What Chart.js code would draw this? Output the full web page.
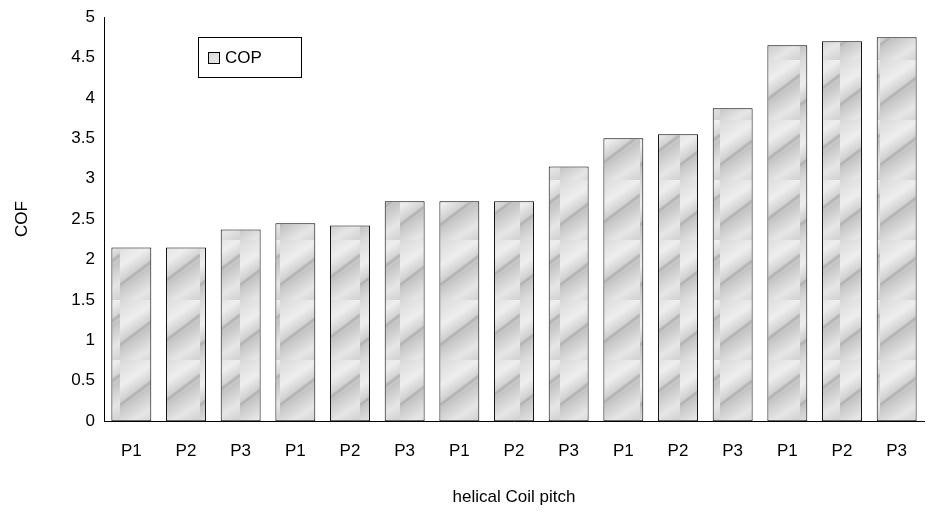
<!DOCTYPE html>
<html>
<head>
<meta charset="utf-8">
<script src="https://cdn.jsdelivr.net/npm/chart.js@4"></script>
<style>
  html, body { margin: 0; padding: 0; background: #fff; }
  #wrap { width: 928px; height: 512px; }
</style>
</head>
<body>
<div id="wrap"><canvas id="cop" width="928" height="512"></canvas></div>
<script>
const categories = ['P1', 'P2', 'P3', 'P1', 'P2', 'P3', 'P1', 'P2', 'P3', 'P1', 'P2', 'P3', 'P1', 'P2', 'P3']
const copValues = [2.15, 2.15, 2.37, 2.45, 2.42, 2.72, 2.72, 2.72, 3.15, 3.5, 3.55, 3.87, 4.65, 4.7, 4.75]
const seriesName = 'COP'

// grey marble-ish texture for bars
function makePattern() {
  const c = document.createElement('canvas')
  c.width = 40
  c.height = 60
  const g = c.getContext('2d')
  const grad = g.createLinearGradient(0, 0, 40, 60)
  grad.addColorStop(0, '#d8d8d8')
  grad.addColorStop(0.3, '#eeeeee')
  grad.addColorStop(0.55, '#c4c4c4')
  grad.addColorStop(0.8, '#e6e6e6')
  grad.addColorStop(1, '#d0d0d0')
  g.fillStyle = grad
  g.fillRect(0, 0, 40, 60)
  g.strokeStyle = 'rgba(160,160,160,0.5)'
  g.lineWidth = 3
  g.beginPath()
  g.moveTo(0, 45); g.lineTo(40, 15)
  g.stroke()
  return g.createPattern(c, 'repeat')
}

const fill = makePattern()
const ctx = document.getElementById('cop').getContext('2d')
new Chart(ctx, {
  type: 'bar',
  data: {
    labels: categories,
    datasets: [{
      label: seriesName,
      data: copValues,
      backgroundColor: fill,
      borderColor: '#000',
      borderWidth: 1,
      borderSkipped: false,
      categoryPercentage: 1,
      barPercentage: 0.73,
    }],
  },
  options: {
    responsive: false,
    animation: false,
    layout: { padding: { top: 17, right: 4, left: 8, bottom: 0 } },
    scales: {
      x: {
        grid: { display: false, drawTicks: false },
        border: { color: '#000' },
        ticks: { color: '#000', font: { family: 'Liberation Sans', size: 17 }, padding: 20 },
        title: { display: true, text: 'helical Coil pitch', color: '#000', font: { family: 'Liberation Sans', size: 17 }, padding: { top: 6, bottom: 4 } },
      },
      y: {
        min: 0,
        max: 5,
        afterFit(axis) { axis.width = 96 },
        grid: { display: false, tickLength: 6, tickColor: '#000' },
        border: { color: '#000' },
        ticks: {
          stepSize: 0.5,
          color: '#000',
          font: { family: 'Liberation Sans', size: 17 },
          callback: (v) => String(Math.round(v * 10) / 10),
        },
        title: { display: true, text: 'COF', color: '#000', font: { family: 'Liberation Sans', size: 17 } },
      },
    },
    plugins: {
      tooltip: { enabled: false },
      legend: { display: false },
    },
  },
  plugins: [{
    id: 'legendBox',
    afterDraw(chart) {
      const c = chart.ctx
      const x = chart.chartArea.left + 94
      const y = chart.chartArea.top + 20
      c.save()
      c.fillStyle = '#fff'
      c.fillRect(x, y, 103, 40)
      c.strokeStyle = '#000'
      c.lineWidth = 1
      c.strokeRect(x + 0.5, y + 0.5, 103, 40)
      c.fillStyle = fill
      c.fillRect(x + 10, y + 15, 12, 12)
      c.strokeRect(x + 10.5, y + 15.5, 11, 11)
      c.fillStyle = '#000'
      c.font = '17px "Liberation Sans"'
      c.textBaseline = 'middle'
      c.fillText(seriesName, x + 27, y + 21)
      c.restore()
    },
  }],
})
</script>
</body>
</html>
